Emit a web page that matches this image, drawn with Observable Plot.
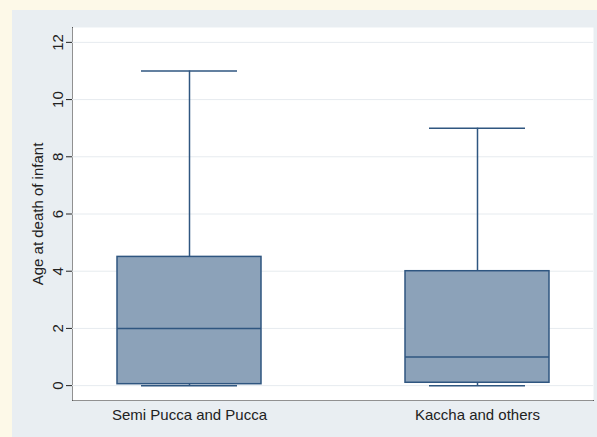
<!DOCTYPE html>
<html><head><meta charset="utf-8">
<script src="https://cdn.jsdelivr.net/npm/d3@7"></script>
<script src="https://cdn.jsdelivr.net/npm/@observablehq/plot@0.6"></script>
<style>
html,body{margin:0;padding:0;background:#fdf9e8;width:597px;height:437px;overflow:hidden}
#bg{position:absolute;left:12px;top:10px;width:585px;height:427px;background:#e9eef2}
#chart{position:absolute;left:0;top:0}
</style></head><body><div id="bg"></div><div id="chart"></div>
<script>
const categories = ["Semi Pucca and Pucca", "Kaccha and others"];
const minVals = [0, 0];
const q1Vals = [0.05, 0.1];
const medians = [2, 1];
const q3Vals = [4.5, 4];
const maxVals = [11, 9];
const yTicks = [0, 2, 4, 6, 8, 10, 12];
const yLabel = "Age at death of infant";

const data = categories.map((c, i) => ({cat: c, min: minVals[i], q1: q1Vals[i], med: medians[i], q3: q3Vals[i], max: maxVals[i]}));
const stroke = "#2f5680";
const chart = Plot.plot({
  width: 597, height: 437,
  marginLeft: 72, marginTop: 27, marginRight: 4, marginBottom: 37,
  style: {background: "transparent", fontFamily: "'Liberation Sans', Arial, sans-serif", fontSize: "15px", color: "#222"},
  x: {domain: categories, paddingInner: 0.5, paddingOuter: 0.153, label: null, tickSize: 0, tickPadding: 9, line: true},
  y: {domain: [-0.52, 12.52], ticks: yTicks, tickRotate: -90, tickSize: 6, tickPadding: 4, line: true,
      label: yLabel, labelAnchor: "center", labelOffset: 40, labelArrow: "none"},
  marks: [
    Plot.frame({fill: "white", stroke: null}),
    Plot.gridY(yTicks, {stroke: "#e6ebef", strokeOpacity: 1}),
    Plot.ruleX(data, {x: "cat", y1: "q3", y2: "max", stroke, strokeWidth: 1.5}),
    Plot.ruleX(data, {x: "cat", y1: "min", y2: "q1", stroke, strokeWidth: 1.5}),
    Plot.tickY(data, {x: "cat", y: "max", stroke, strokeWidth: 1.5, insetLeft: 24, insetRight: 24}),
    Plot.tickY(data, {x: "cat", y: "min", stroke, strokeWidth: 1.5, insetLeft: 24, insetRight: 24}),
    Plot.barY(data, {x: "cat", y1: "q1", y2: "q3", fill: "#8ca2b9", stroke, strokeWidth: 1.5}),
    Plot.tickY(data, {x: "cat", y: "med", stroke, strokeWidth: 1.5})
  ]
});
document.getElementById("chart").appendChild(chart);
</script></body></html>
